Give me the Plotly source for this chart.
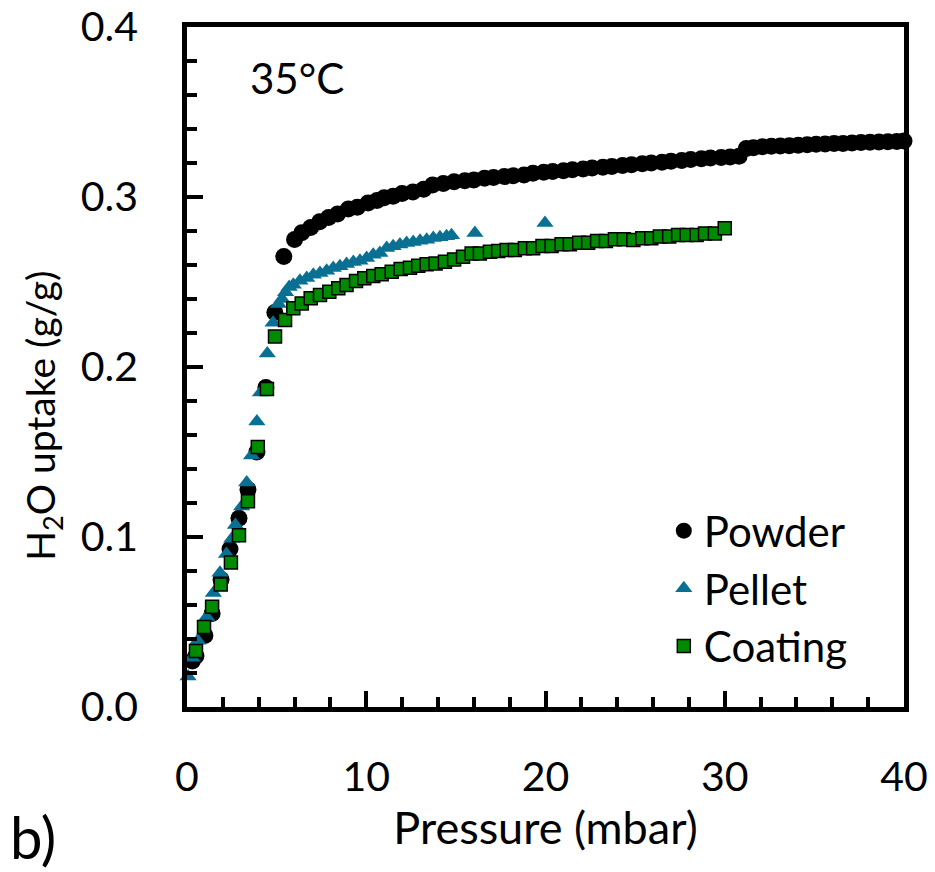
import plotly.graph_objects as go

# ---------------- data ----------------
powder_x = [0.3, 0.5, 1.0, 1.4, 1.9, 2.4, 2.9, 3.4, 3.9, 4.4, 4.9, 5.4, 6.0, 6.4, 6.9, 7.4, 7.9, 8.4,
            9.0, 9.5, 10.1, 10.6, 11.0, 11.5, 12.0, 12.6, 13.2, 13.7, 14.3, 14.9, 15.5, 16.0, 16.6,
            17.1, 17.7, 18.2, 18.8, 19.3, 19.9, 20.4, 21.0, 21.5, 22.1, 22.6, 23.2, 23.7, 24.3, 24.8,
            25.4, 25.9, 26.5, 27.0, 27.6, 28.1, 28.7, 29.2, 29.8, 30.3, 30.8, 31.2, 31.6, 32.1, 32.6,
            33.1, 33.6, 34.1, 34.6, 35.1, 35.6, 36.1, 36.6, 37.1, 37.6, 38.1, 38.6, 39.1, 39.6, 40.0]
powder_y = [0.027, 0.030, 0.042, 0.055, 0.075, 0.093, 0.111, 0.128, 0.150, 0.188, 0.232, 0.265, 0.275,
            0.279, 0.282, 0.2855, 0.288, 0.290, 0.293, 0.294, 0.2965, 0.298, 0.2995, 0.3005, 0.302,
            0.303, 0.3045, 0.307, 0.308, 0.309, 0.3095, 0.310, 0.311, 0.3115, 0.312, 0.3125, 0.313,
            0.314, 0.3145, 0.315, 0.3155, 0.316, 0.3165, 0.317, 0.3175, 0.318, 0.3185, 0.319, 0.3195,
            0.320, 0.3205, 0.321, 0.3215, 0.322, 0.3225, 0.323, 0.3232, 0.3235, 0.324, 0.3285, 0.329,
            0.3295, 0.3298, 0.330, 0.3302, 0.3305, 0.3308, 0.331, 0.3312, 0.3315, 0.3315, 0.3318,
            0.332, 0.3322, 0.3323, 0.3325, 0.3327, 0.333]

pellet_x = [0.06, 0.28, 0.6, 1.1, 1.47, 1.84, 2.2, 2.5, 2.7, 3.05, 3.33, 3.6, 3.9, 4.1, 4.48, 4.8, 5.1,
            5.3, 5.5, 5.7, 5.93, 6.3, 6.68, 7.05, 7.42, 7.79, 8.16, 8.53, 8.9, 9.28, 9.65, 10.02, 10.39,
            10.76, 11.14, 11.5, 11.88, 12.25, 12.62, 13.0, 13.37, 13.74, 14.11, 14.48, 14.76, 16.06, 19.97]
pellet_y = [0.018, 0.029, 0.039, 0.053, 0.067, 0.079, 0.090, 0.099, 0.107, 0.118, 0.132, 0.148, 0.168,
            0.185, 0.208, 0.226, 0.237, 0.240, 0.244, 0.247, 0.2484, 0.2508, 0.2524, 0.2543, 0.2553,
            0.2566, 0.2582, 0.2592, 0.2606, 0.2618, 0.2625, 0.2641, 0.2661, 0.2671, 0.270, 0.271, 0.272,
            0.273, 0.2735, 0.2743, 0.2749, 0.2759, 0.2763, 0.2769, 0.2775, 0.2788, 0.2847]

coating_x = [0.5, 0.95, 1.4, 1.88, 2.45, 2.9, 3.4, 3.95, 4.46, 4.91, 5.47, 5.93, 6.4, 6.9, 7.42, 7.94,
             8.44, 8.9, 9.43, 9.89, 10.39, 10.86, 11.42, 11.92, 12.44, 12.9, 13.37, 13.87, 14.39, 14.9,
             15.4, 15.88, 16.34, 16.9, 17.36, 17.83, 18.29, 18.85, 19.31, 19.83, 20.34, 20.9, 21.36,
             21.88, 22.38, 22.88, 23.37, 23.87, 24.37, 24.9, 25.4, 25.9, 26.38, 26.9, 27.4, 27.87, 28.43,
             28.9, 29.45, 30.0]
coating_y = [0.033, 0.047, 0.059, 0.072, 0.085, 0.101, 0.121, 0.153, 0.187, 0.218, 0.2276, 0.2345,
             0.2374, 0.2404, 0.2424, 0.2443, 0.2463, 0.2482, 0.2506, 0.2522, 0.2535, 0.2545, 0.2561,
             0.2576, 0.2584, 0.2596, 0.2604, 0.2609, 0.2619, 0.2633, 0.2649, 0.2667, 0.2667, 0.2678,
             0.2682, 0.2688, 0.2688, 0.2698, 0.2698, 0.2712, 0.2712, 0.2722, 0.2722, 0.2731, 0.2731,
             0.2741, 0.2741, 0.2751, 0.2751, 0.2747, 0.2757, 0.2757, 0.2767, 0.2767, 0.2776, 0.2776,
             0.2776, 0.2786, 0.2786, 0.2816]

x_ticks = [0, 10, 20, 30, 40]
y_ticks = [0.0, 0.1, 0.2, 0.3, 0.4]
y_tick_labels = ["0.0", "0.1", "0.2", "0.3", "0.4"]

FONT = "Lato"

fig = go.Figure()
fig.add_trace(go.Scatter(x=powder_x, y=powder_y, mode="markers", name="Powder",
                         legendgroup="a", cliponaxis=False,
                         marker=dict(symbol="circle", size=17, color="black")))
fig.add_trace(go.Scatter(x=pellet_x, y=pellet_y, mode="markers", name="Pellet",
                         legendgroup="b", cliponaxis=False,
                         marker=dict(symbol="triangle-up", size=15, color="#0a7093")))
fig.add_trace(go.Scatter(x=coating_x, y=coating_y, mode="markers", name="Coating",
                         legendgroup="c", cliponaxis=False,
                         marker=dict(symbol="square", size=13, color="#008a00",
                                     line=dict(color="black", width=1.5))))

axis_common = dict(showgrid=False, zeroline=False, showline=True, linecolor="black",
                   linewidth=4.5, mirror=True, ticks="inside", ticklen=16, tickwidth=4,
                   tickcolor="black", automargin=False, ticklabeloverflow="allow",
                   tickfont=dict(family=FONT, size=41, color="black"))

fig.update_layout(
    width=935, height=872,
    margin=dict(l=187, r=31, t=27, b=165, autoexpand=False),
    paper_bgcolor="white", plot_bgcolor="white",
    font=dict(family=FONT, color="black"),
    showlegend=True,
    legend=dict(x=0.665, y=0.309, xanchor="left", yanchor="top",
                font=dict(family=FONT, size=42, color="black"),
                bgcolor="rgba(0,0,0,0)", tracegroupgap=0, traceorder="grouped"),
    xaxis=dict(range=[0, 40], tickvals=x_ticks, ticklabelstandoff=30,
               minor=dict(dtick=2, ticks="inside", ticklen=10, tickwidth=4, tickcolor="black"),
               title=dict(text="Pressure (mbar)", font=dict(family=FONT, size=45), standoff=14),
               **axis_common),
    yaxis=dict(range=[0, 0.4], tickvals=y_ticks, ticktext=y_tick_labels, ticklabelstandoff=36,
               minor=dict(dtick=0.02, ticks="inside", ticklen=10, tickwidth=4, tickcolor="black"),
               **axis_common),
    annotations=[
        dict(text="H<sub>2</sub>O uptake (g/g)", textangle=-90, xref="paper", yref="paper",
             x=-0.201, y=0.428, xanchor="center", yanchor="middle", showarrow=False,
             font=dict(family=FONT, size=39, color="black")),
        dict(text="35°C", xref="paper", yref="paper", x=0.085, y=0.925, xanchor="left",
             yanchor="middle", showarrow=False, font=dict(family=FONT, size=42, color="black")),
        dict(text="b)", xref="paper", yref="paper", x=-0.25, y=-0.19, xanchor="left",
             yanchor="middle", showarrow=False, font=dict(family=FONT, size=58, color="black")),
    ],
)

# remove the browser's default 8px body margin so the figure sits at the page origin
fig.write_html("out.html", config={"displayModeBar": False},
               post_script="document.body.style.margin='0px';")
